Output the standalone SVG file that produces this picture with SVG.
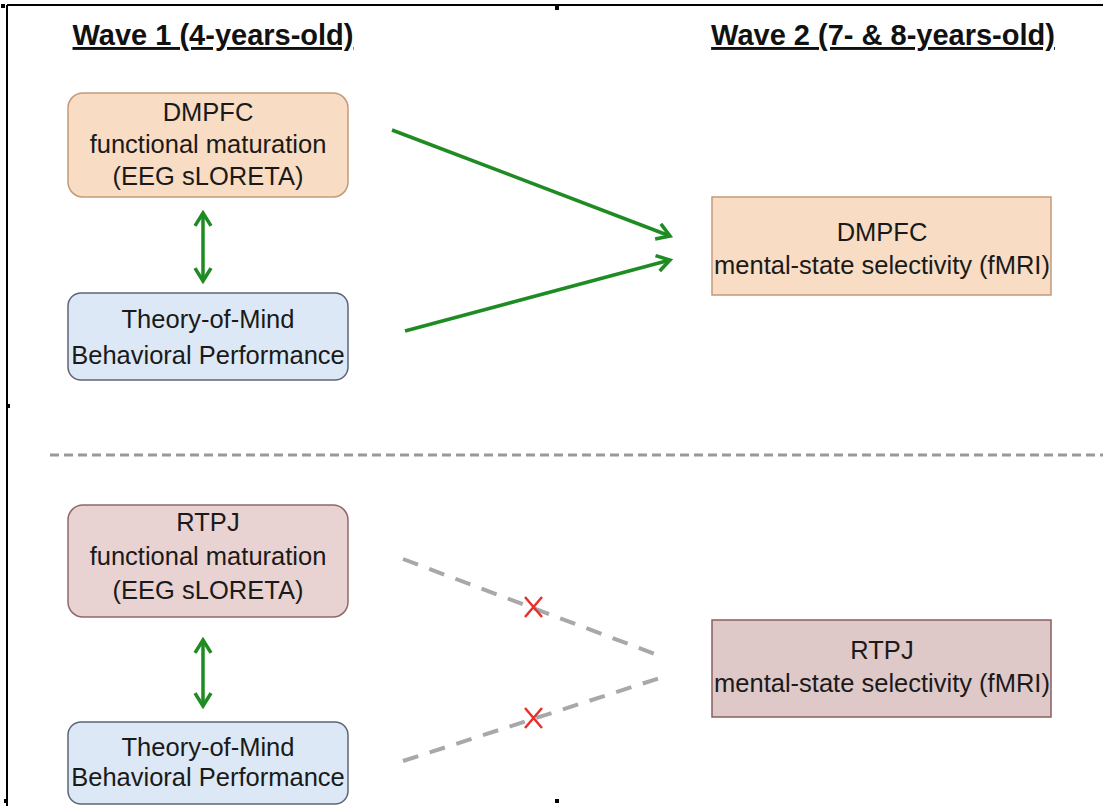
<svg xmlns="http://www.w3.org/2000/svg" width="1103" height="806" viewBox="0 0 1103 806">
<style>
.hdr{font-family:"Liberation Sans",Arial,sans-serif;font-size:29px;font-weight:bold;fill:#111;text-decoration:underline}
.t{font-family:"Liberation Sans",Arial,sans-serif;font-size:25.5px;fill:#1a1a1a;text-anchor:middle}
.peach{fill:#f8dcc3;stroke:#c39a78;stroke-width:1.5}
.blue{fill:#dce8f5;stroke:#5c6678;stroke-width:1.5}
.rose{fill:#e9d2d2;stroke:#8e6a6a;stroke-width:1.5}
.rose2{fill:#dfc8c8;stroke:#8a5e5e;stroke-width:1.5}
.g{stroke:#1f8c23;stroke-width:3.5;fill:none}
.dash{stroke:#a8a8a8;stroke-width:4;stroke-dasharray:16 12;fill:none}
.x{stroke:#e8302a;stroke-width:2.5;fill:none}
</style>
<defs>
<marker id="ah" viewBox="0 0 12 12" refX="10" refY="6" markerWidth="5.5" markerHeight="5.5" orient="auto-start-reverse" markerUnits="strokeWidth">
<path d="M2,1 L10,6 L2,11" fill="none" stroke="#1f8c23" stroke-width="2.2"/>
</marker>
</defs>
<rect width="1103" height="806" fill="#fff"/>
<g id="frame" stroke="#000" stroke-width="2" fill="#000">
<line x1="7" y1="5" x2="1103" y2="5"/>
<line x1="7" y1="5" x2="7" y2="806"/>
<rect x="1" y="4" width="4" height="4" stroke="none"/>
<rect x="555" y="6" width="4" height="4" stroke="none"/>
<rect x="6" y="404" width="4" height="4" stroke="none"/>
<rect x="4" y="799" width="4" height="4" stroke="none"/>
<rect x="555" y="799" width="4" height="4" stroke="none"/>
</g>
<g id="headers">
<text class="hdr" x="213" y="45" text-anchor="middle">Wave 1 (4-years-old)</text>
<text class="hdr" x="883" y="45" text-anchor="middle">Wave 2 (7- &amp; 8-years-old)</text>
</g>
<line id="separator" x1="50" y1="455" x2="1103" y2="455" stroke="#999" stroke-width="3" stroke-dasharray="9 5"/>
<g id="connectors">
<line class="g" x1="392" y1="130" x2="670" y2="236" marker-end="url(#ah)"/>
<line class="g" x1="405" y1="331" x2="670" y2="260" marker-end="url(#ah)"/>
<line class="g" x1="203" y1="213" x2="203" y2="281" marker-start="url(#ah)" marker-end="url(#ah)"/>
<line class="g" x1="203" y1="640" x2="203" y2="706" marker-start="url(#ah)" marker-end="url(#ah)"/>
<line class="dash" x1="403" y1="559" x2="663" y2="657"/>
<line class="dash" x1="403" y1="761" x2="663" y2="677"/>
<path class="x" d="M525,597 L542,617 M542,597 L525,617"/>
<path class="x" d="M525,708 L542,728 M542,708 L525,728"/>
</g>
<g id="dmpfc-eeg">
<rect class="peach" x="68" y="93" width="280" height="104" rx="15"/>
<text class="t" x="208" y="121">DMPFC</text>
<text class="t" x="208" y="153">functional maturation</text>
<text class="t" x="208" y="185">(EEG sLORETA)</text>
</g>
<g id="tom-1">
<rect class="blue" x="68" y="293" width="280" height="87" rx="13"/>
<text class="t" x="208" y="328">Theory-of-Mind</text>
<text class="t" x="208" y="364">Behavioral Performance</text>
</g>
<g id="dmpfc-fmri">
<rect class="peach" x="712" y="197" width="339" height="98"/>
<text class="t" x="882" y="241">DMPFC</text>
<text class="t" x="882" y="274">mental-state selectivity (fMRI)</text>
</g>
<g id="rtpj-eeg">
<rect class="rose" x="68" y="505" width="280" height="112" rx="15"/>
<text class="t" x="208" y="531">RTPJ</text>
<text class="t" x="208" y="565">functional maturation</text>
<text class="t" x="208" y="599">(EEG sLORETA)</text>
</g>
<g id="tom-2">
<rect class="blue" x="68" y="722" width="280" height="82" rx="13"/>
<text class="t" x="208" y="756">Theory-of-Mind</text>
<text class="t" x="208" y="786">Behavioral Performance</text>
</g>
<g id="rtpj-fmri">
<rect class="rose2" x="712" y="620" width="339" height="97"/>
<text class="t" x="882" y="659">RTPJ</text>
<text class="t" x="882" y="692">mental-state selectivity (fMRI)</text>
</g>
</svg>
